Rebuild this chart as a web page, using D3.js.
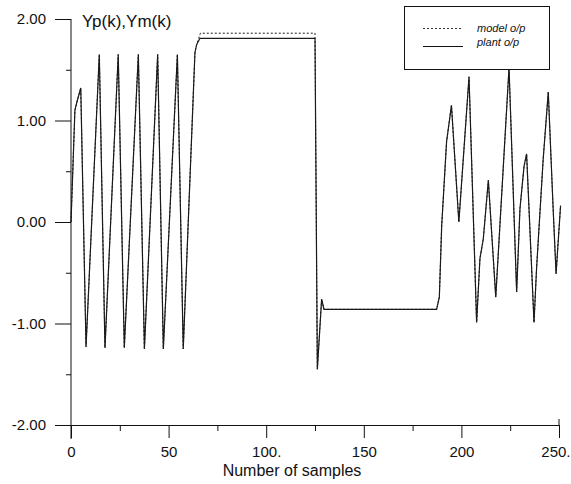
<!DOCTYPE html>
<html>
<head>
<meta charset="utf-8">
<script src="https://cdn.jsdelivr.net/npm/d3@7"></script>
<style>
  body { margin: 0; background: #fff; }
  svg { display: block; font-family: "Liberation Sans", Arial, sans-serif; }
</style>
</head>
<body>
<div id="chart"></div>
<script>
// sample index / value pairs (polyline vertices)
const plantSamples = [0, 1, 2, 3, 5, 7.7, 14.5, 17.4, 24.2, 27.3, 34.5, 37.6, 44.4, 47.3, 54.5, 57.5,
  63.5, 64.4, 66.1, 125, 126.2, 128.4, 129.6, 187.3, 188.7, 189.9, 192.4, 194.9, 198.7, 203.9,
  207.8, 209.5, 211.2, 213.8, 217.6, 224.4, 228.3, 230, 232.1, 233.4, 237.2, 238.5, 241.9,
  244.5, 247, 248.5, 250.8];
const plantValues = [0, 0.55, 1.1, 1.18, 1.32, -1.23, 1.65, -1.24, 1.65, -1.24, 1.65, -1.25, 1.65, -1.25, 1.65, -1.25,
  1.67, 1.75, 1.81, 1.81, -1.45, -0.76, -0.86, -0.86, -0.74, -0.04, 0.79, 1.15, 0.0, 1.43,
  -0.99, -0.36, -0.17, 0.41, -0.74, 1.52, -0.69, 0.13, 0.55, 0.67, -0.99, -0.46, 0.62,
  1.28, 0.13, -0.51, 0.16];

const modelSamples = [0, 1, 2, 3, 5, 7.7, 14.5, 17.4, 24.2, 27.3, 34.5, 37.6, 44.4, 47.3, 54.5, 57.5,
  63.5, 64.4, 66.3, 125, 126.2, 128.4, 129.6, 187.3, 188.7, 189.9, 192.4, 194.9, 198.7, 203.9,
  207.8, 209.5, 211.2, 213.8, 217.6, 224.4, 228.3, 230, 232.1, 233.4, 237.2, 238.5, 241.9,
  244.5, 247, 248.5, 250.8];
const modelValues = [0, 0.55, 1.1, 1.18, 1.32, -1.23, 1.65, -1.24, 1.65, -1.24, 1.65, -1.25, 1.65, -1.25, 1.65, -1.25,
  1.67, 1.75, 1.86, 1.86, -1.45, -0.76, -0.86, -0.86, -0.74, -0.04, 0.79, 1.15, 0.0, 1.43,
  -0.99, -0.36, -0.17, 0.41, -0.74, 1.52, -0.69, 0.13, 0.55, 0.67, -0.99, -0.46, 0.62,
  1.28, 0.13, -0.51, 0.16];

const xTicks = [0, 50, 100, 150, 200, 250];
const xTickLabels = ["0", "50", "100.", "150", "200", "250."];
const xMinorTicks = [25, 75, 125, 175, 225];
const yTicks = [-2, -1, 0, 1, 2];
const yTickLabels = ["-2.00", "-1.00", "0.00", "1.00", "2.00"];
const yMinorTicks = [-1.5, -0.5, 0.5, 1.5];
const legendLabels = ["model o/p", "plant o/p"];

const width = 571, height = 484;

const svg = d3.select("#chart").append("svg")
  .attr("width", width)
  .attr("height", height);

const x = d3.scaleLinear().domain([0, 250]).range([71, 559]);
const y = d3.scaleLinear().domain([-2, 2]).range([425, 19]);

// y axis
const yAxis = d3.axisLeft(y)
  .tickValues(yTicks)
  .tickFormat((d, i) => yTickLabels[i])
  .tickSize(16)
  .tickPadding(9);
const gy = svg.append("g")
  .attr("transform", "translate(" + x(0) + ",0)")
  .call(yAxis);
gy.select(".domain").remove();
gy.selectAll("text").style("font-size", "15px").attr("fill", "#111");
gy.selectAll("line").attr("stroke", "#111");

svg.append("g")
  .attr("transform", "translate(" + x(0) + ",0)")
  .call(d3.axisLeft(y).tickValues(yMinorTicks).tickSize(5).tickFormat(""))
  .call(g => g.select(".domain").remove())
  .selectAll("line").attr("stroke", "#111");

// y axis line runs a little below the x axis
svg.append("line")
  .attr("x1", x(0)).attr("x2", x(0))
  .attr("y1", y(2)).attr("y2", y(-2) + 14)
  .attr("stroke", "#111");

// x axis
const xAxis = d3.axisBottom(x)
  .tickValues(xTicks)
  .tickFormat((d, i) => xTickLabels[i])
  .tickSize(13)
  .tickSizeOuter(0)
  .tickPadding(8);
const gx = svg.append("g")
  .attr("transform", "translate(0," + y(-2) + ")")
  .call(xAxis);
gx.select(".domain").attr("stroke", "#111");
gx.selectAll("text").style("font-size", "15px").attr("fill", "#111");
gx.selectAll("line").attr("stroke", "#111");
// last label sits against the right edge
gx.selectAll(".tick").filter(d => d === 250).select("text")
  .attr("text-anchor", "end")
  .attr("dx", "11px");

svg.append("g")
  .attr("transform", "translate(0," + y(-2) + ")")
  .call(d3.axisBottom(x).tickValues(xMinorTicks).tickSize(6).tickFormat(""))
  .call(g => g.select(".domain").remove())
  .selectAll("line").attr("stroke", "#111");

// last tick also goes up a bit
svg.append("line")
  .attr("x1", x(250)).attr("x2", x(250))
  .attr("y1", y(-2) - 6).attr("y2", y(-2))
  .attr("stroke", "#111");

// titles
svg.append("text")
  .attr("x", 82).attr("y", 27)
  .style("font-size", "17px")
  .attr("fill", "#111")
  .text("Yp(k),Ym(k)");

svg.append("text")
  .attr("x", 292).attr("y", 476)
  .attr("text-anchor", "middle")
  .style("font-size", "16px")
  .attr("fill", "#111")
  .text("Number of samples");

// series
const line = d3.line()
  .x(d => x(d[0]))
  .y(d => y(d[1]));

const plant = plantSamples.map((k, i) => [k, plantValues[i]]);
const model = modelSamples.map((k, i) => [k, modelValues[i]]);

svg.append("path")
  .datum(plant)
  .attr("fill", "none")
  .attr("stroke", "#1a1a1a")
  .attr("stroke-width", 1.2)
  .attr("d", line);

svg.append("path")
  .datum(model)
  .attr("fill", "none")
  .attr("stroke", "#1a1a1a")
  .attr("stroke-width", 1)
  .attr("stroke-dasharray", "2,2")
  .attr("d", line);

// legend
const legend = svg.append("g");
legend.append("rect")
  .attr("x", 404.5).attr("y", 6.5)
  .attr("width", 145).attr("height", 63)
  .attr("fill", "#fff")
  .attr("stroke", "#111");

legend.append("line")
  .attr("x1", 423).attr("x2", 463)
  .attr("y1", 28.5).attr("y2", 28.5)
  .attr("stroke", "#333")
  .attr("stroke-dasharray", "2,2");
legend.append("line")
  .attr("x1", 423).attr("x2", 463)
  .attr("y1", 46.5).attr("y2", 46.5)
  .attr("stroke", "#111");

legend.selectAll("text.lab")
  .data(legendLabels)
  .enter().append("text")
  .attr("class", "lab")
  .attr("x", 477)
  .attr("y", (d, i) => 32 + i * 14)
  .style("font-size", "11px")
  .style("font-style", "italic")
  .attr("fill", "#111")
  .text(d => d);
</script>
</body>
</html>
